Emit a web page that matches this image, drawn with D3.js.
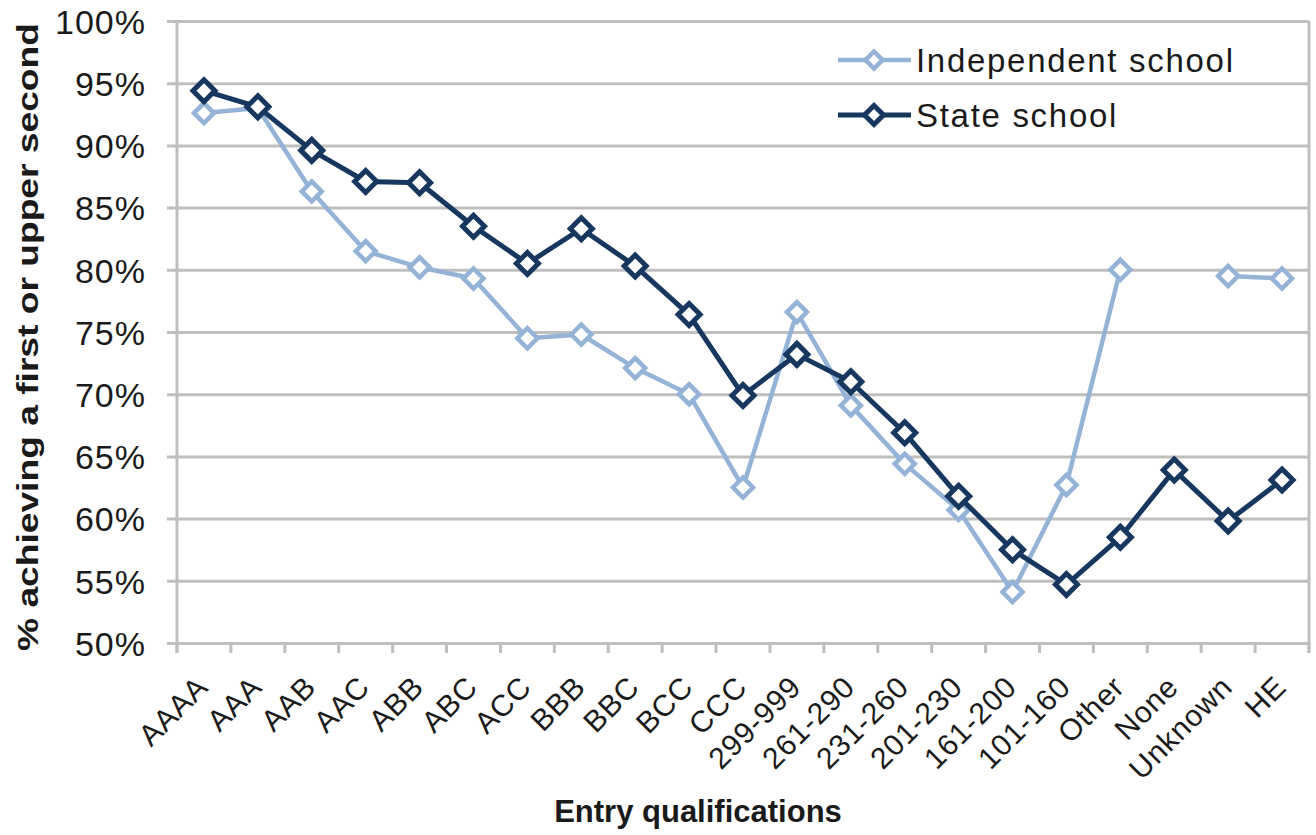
<!DOCTYPE html>
<html>
<head>
<meta charset="utf-8">
<script src="https://d3js.org/d3.v7.min.js"></script>
<style>
  body { margin: 0; background: #fff; }
  svg text { font-family: "Liberation Sans", Arial, sans-serif; fill: #1a1a1a; }
</style>
</head>
<body>
<svg class="chart"></svg>
<script>
var categories = ["AAAA", "AAA", "AAB", "AAC", "ABB", "ABC", "ACC", "BBB", "BBC", "BCC", "CCC",
    "299-999", "261-290", "231-260", "201-230", "161-200", "101-160", "Other", "None", "Unknown", "HE"];
var independent = [92.6, 93.0, 86.3, 81.5, 80.2, 79.3, 74.5, 74.8, 72.1, 70.0, 62.5,
    76.6, 69.1, 64.4, 60.7, 54.1, 62.7, 80.0, null, 79.5, 79.3];
var state = [94.4, 93.1, 89.6, 87.1, 87.0, 83.5, 80.5, 83.3, 80.3, 76.4, 69.9,
    73.2, 71.0, 66.9, 61.8, 57.5, 54.7, 58.5, 63.9, 59.8, 63.1];
var yTicks = [50, 55, 60, 65, 70, 75, 80, 85, 90, 95, 100];

var series = [
    { name: "Independent school", values: independent, color: "#95B3D7", width: 4.5, size: 20 },
    { name: "State school", values: state, color: "#17375E", width: 5, size: 22 }
];

(function() {
    var W = 1316, H = 835,
        plotLeft = 177, plotRight = 1309, plotTop = 21, plotBottom = 643;

    var svg = d3.select(".chart").attr("width", W).attr("height", H);

    var x = d3.scaleBand().domain(categories).range([plotLeft, plotRight]);
    var y = d3.scaleLinear().domain([50, 100]).range([plotBottom, plotTop]);

    // gridlines + y axis
    var yAxis = d3.axisLeft(y).tickValues(yTicks)
        .tickSize(-(plotRight - plotLeft)).tickFormat(function(d) { return d + "%"; });
    var gy = svg.append("g").attr("transform", "translate(" + plotLeft + ",0)").call(yAxis);
    gy.select(".domain").remove();
    gy.selectAll("line").attr("x1", -10).attr("stroke", "#bfbfbf").attr("stroke-width", 3);
    gy.selectAll("text").attr("x", -31).attr("dy", "0.36em")
        .style("font-size", "34px").style("letter-spacing", "1px")
        .style("font-family", "Liberation Sans, Arial, sans-serif").attr("fill", "#1a1a1a");

    // axis frame
    svg.append("line").attr("x1", plotLeft).attr("x2", plotLeft).attr("y1", plotTop).attr("y2", plotBottom + 10)
        .attr("stroke", "#bfbfbf").attr("stroke-width", 3);
    svg.append("line").attr("x1", plotRight).attr("x2", plotRight).attr("y1", plotTop).attr("y2", plotBottom + 10)
        .attr("stroke", "#bfbfbf").attr("stroke-width", 3);

    // x ticks at category boundaries
    var bounds = categories.map(function(c) { return x(c); }).concat([plotRight]);
    svg.append("g").selectAll("line").data(bounds).enter().append("line")
        .attr("x1", function(d) { return d; }).attr("x2", function(d) { return d; })
        .attr("y1", plotBottom).attr("y2", plotBottom + 10)
        .attr("stroke", "#bfbfbf").attr("stroke-width", 3);

    // x labels rotated
    svg.append("g").selectAll("text").data(categories).enter().append("text")
        .attr("transform", function(d) {
            return "translate(" + (x(d) + x.bandwidth() / 2 - 9) + "," + (plotBottom + 31) + ") rotate(-45)";
        })
        .attr("text-anchor", "end")
        .attr("dy", "0.7em")
        .style("font-size", "30px").style("letter-spacing", "0.8px")
        .text(function(d) { return d; });

    // axis titles
    svg.append("text")
        .attr("transform", "translate(38,337) rotate(-90)")
        .attr("text-anchor", "middle")
        .attr("textLength", 628).attr("lengthAdjust", "spacingAndGlyphs")
        .style("font-size", "29px").style("font-weight", "bold")
        .text("% achieving a first or upper second");

    svg.append("text")
        .attr("x", 698).attr("y", 822)
        .attr("text-anchor", "middle")
        .style("font-size", "31px").style("font-weight", "bold")
        .text("Entry qualifications");

    function diamond(s) {
        var h = s / 2;
        return "M0," + (-h) + "L" + h + ",0L0," + h + "L" + (-h) + ",0Z";
    }

    series.forEach(function(s) {
        var line = d3.line()
            .defined(function(d) { return d != null; })
            .x(function(d, i) { return x(categories[i]) + x.bandwidth() / 2; })
            .y(function(d) { return y(d); });
        svg.append("path").datum(s.values)
            .attr("d", line).attr("fill", "none")
            .attr("stroke", s.color).attr("stroke-width", s.width)
            .attr("stroke-linejoin", "round");
        svg.append("g").selectAll("path")
            .data(s.values.map(function(v, i) { return { v: v, c: categories[i] }; })
                .filter(function(d) { return d.v != null; }))
            .enter().append("path")
            .attr("d", diamond(s.size))
            .attr("transform", function(d) {
                return "translate(" + (x(d.c) + x.bandwidth() / 2) + "," + y(d.v) + ")";
            })
            .attr("fill", "#fff").attr("stroke", s.color).attr("stroke-width", s.width);
    });

    // legend
    var legend = svg.append("g").selectAll("g").data(series).enter().append("g")
        .attr("transform", function(d, i) { return "translate(838," + (60 + i * 55) + ")"; });
    legend.append("line").attr("x1", 0).attr("x2", 73)
        .attr("stroke", function(d) { return d.color; }).attr("stroke-width", function(d) { return d.width; });
    legend.append("path").attr("d", function(d) { return diamond(d.size - 3); })
        .attr("transform", "translate(36,0)")
        .attr("fill", "#fff").attr("stroke", function(d) { return d.color; })
        .attr("stroke-width", function(d) { return d.width; });
    legend.append("text").attr("x", 78).attr("dy", "0.36em")
        .style("font-size", "33px").style("letter-spacing", "1.7px")
        .text(function(d) { return d.name; });
})();
</script>
</body>
</html>
